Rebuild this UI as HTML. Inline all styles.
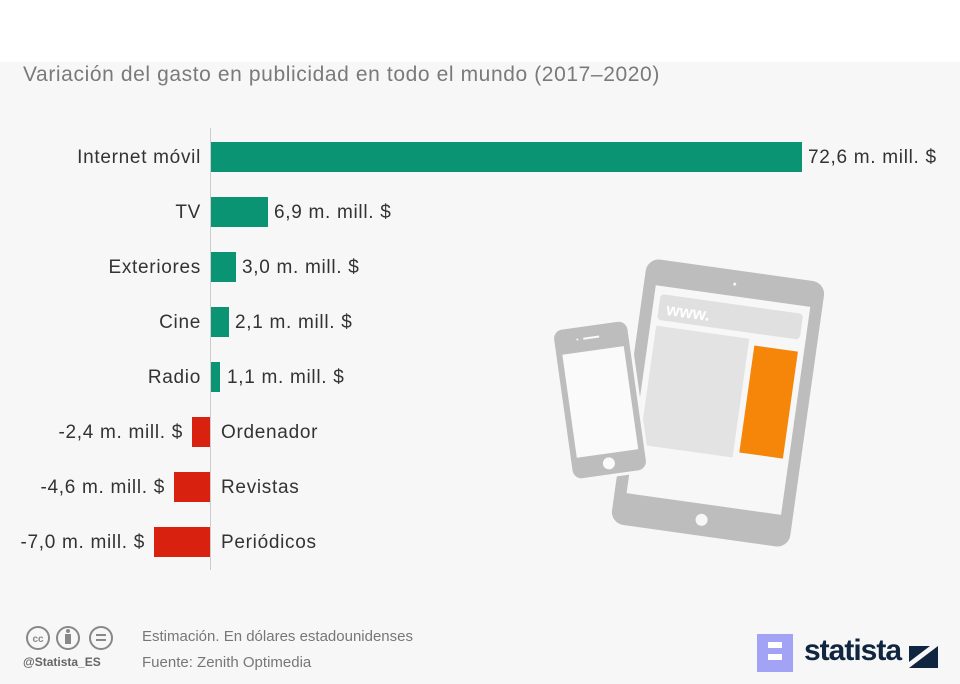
<!DOCTYPE html>
<html><head><meta charset="utf-8"><style>
body{margin:0;width:960px;height:684px;background:#f7f7f7;font-family:"Liberation Sans",sans-serif;position:relative;overflow:hidden}
.top{position:absolute;left:0;top:0;width:960px;height:62px;background:#fff}
.t{position:absolute;white-space:nowrap}
.lbl{font-size:19px;color:#333;letter-spacing:0.7px}
</style></head><body>
<div class="top"></div>
<div class="t" style="left:23px;top:63px;font-size:21px;letter-spacing:0.6px;color:#7a7a7a">Variación del gasto en publicidad en todo el mundo (2017–2020)</div>
<svg width="960" height="684" style="position:absolute;left:0;top:0">
<line x1="210.5" y1="128" x2="210.5" y2="570" stroke="#ccc" stroke-width="1"/>
<g fill="#0a9474">
<rect x="211" y="142" width="591" height="30"/>
<rect x="211" y="197" width="57" height="30"/>
<rect x="211" y="252" width="25" height="30"/>
<rect x="211" y="307" width="18" height="30"/>
<rect x="211" y="362" width="9" height="30"/>
</g>
<g fill="#d9210f">
<rect x="192" y="417" width="18" height="30"/>
<rect x="174" y="472" width="36" height="30"/>
<rect x="154" y="527" width="56" height="30"/>
</g>
<g transform="translate(718,403) rotate(8)">
<rect x="-90" y="-134" width="180" height="268" rx="13" fill="#bdbdbd"/>
<rect x="-78" y="-108" width="156" height="210" fill="#f7f7f7"/>
<circle cx="0" cy="118" r="6" fill="#f7f7f7"/>
<circle cx="0" cy="-120" r="1.5" fill="#f7f7f7"/>
<rect x="-72" y="-100" width="144" height="26" rx="4" fill="#e0e0e0"/>
<text x="-64" y="-80" font-size="17" font-weight="bold" fill="#fff" font-family="Liberation Sans">www.</text>
<rect x="-72" y="-68" width="94" height="120" fill="#e3e3e3"/>
<rect x="28" y="-62" width="44" height="108" fill="#f5860a"/>
</g>
<g transform="translate(600,400) rotate(-8)">
<rect x="-40" y="-78" width="80" height="156" rx="10" fill="#f7f7f7"/>
<rect x="-37" y="-75" width="74" height="150" rx="9" fill="#bdbdbd"/>
<rect x="-31" y="-50" width="62" height="104" fill="#fafafa"/>
<circle cx="0" cy="64" r="6" fill="#fafafa"/>
<rect x="-8" y="-64" width="16" height="2" fill="#fafafa"/>
<circle cx="-14" cy="-63" r="1" fill="#fafafa"/>
</g>
<g fill="none" stroke="#888" stroke-width="2">
<circle cx="38" cy="638" r="11"/><circle cx="68" cy="638" r="11"/><circle cx="101" cy="638" r="11"/>
</g>
<text x="38" y="642" font-size="10" font-weight="bold" fill="#888" text-anchor="middle" font-family="Liberation Sans">cc</text>
<circle cx="68" cy="631" r="2" fill="#888"/><rect x="65" y="634" width="6" height="10" fill="#888"/>
<rect x="96" y="634" width="10" height="2" fill="#888"/><rect x="96" y="639" width="10" height="2" fill="#888"/>
<rect x="757" y="634" width="36" height="38" fill="#a3a3f5"/>
<rect x="768" y="642" width="14" height="6" fill="#fff"/><rect x="768" y="654" width="14" height="6" fill="#fff"/>
<path d="M909 668 L938 668 L938 646 Z M909 646 L930 646 L909 662 Z" fill="#0f2540"/>
</svg>
<div class="t lbl" style="right:759px;top:147px">Internet móvil</div>
<div class="t lbl" style="right:759px;top:202px">TV</div>
<div class="t lbl" style="right:759px;top:257px">Exteriores</div>
<div class="t lbl" style="right:759px;top:312px">Cine</div>
<div class="t lbl" style="right:759px;top:367px">Radio</div>
<div class="t lbl" style="left:808px;top:147px">72,6 m. mill. $</div>
<div class="t lbl" style="left:274px;top:202px">6,9 m. mill. $</div>
<div class="t lbl" style="left:242px;top:257px">3,0 m. mill. $</div>
<div class="t lbl" style="left:235px;top:312px">2,1 m. mill. $</div>
<div class="t lbl" style="left:227px;top:367px">1,1 m. mill. $</div>
<div class="t lbl" style="left:221px;top:422px">Ordenador</div>
<div class="t lbl" style="left:221px;top:477px">Revistas</div>
<div class="t lbl" style="left:221px;top:532px">Periódicos</div>
<div class="t lbl" style="right:777px;top:422px">-2,4 m. mill. $</div>
<div class="t lbl" style="right:795px;top:477px">-4,6 m. mill. $</div>
<div class="t lbl" style="right:815px;top:532px">-7,0 m. mill. $</div>
<div class="t" style="left:23px;top:655px;font-size:12px;color:#666;font-weight:bold">@Statista_ES</div>
<div class="t" style="left:142px;top:628px;font-size:15px;color:#777">Estimación. En dólares estadounidenses</div>
<div class="t" style="left:142px;top:654px;font-size:15px;color:#777">Fuente: Zenith Optimedia</div>
<div class="t" style="left:804px;top:634px;font-size:30px;color:#0f2540;font-weight:bold;letter-spacing:-1px">statista</div>
</body></html>
